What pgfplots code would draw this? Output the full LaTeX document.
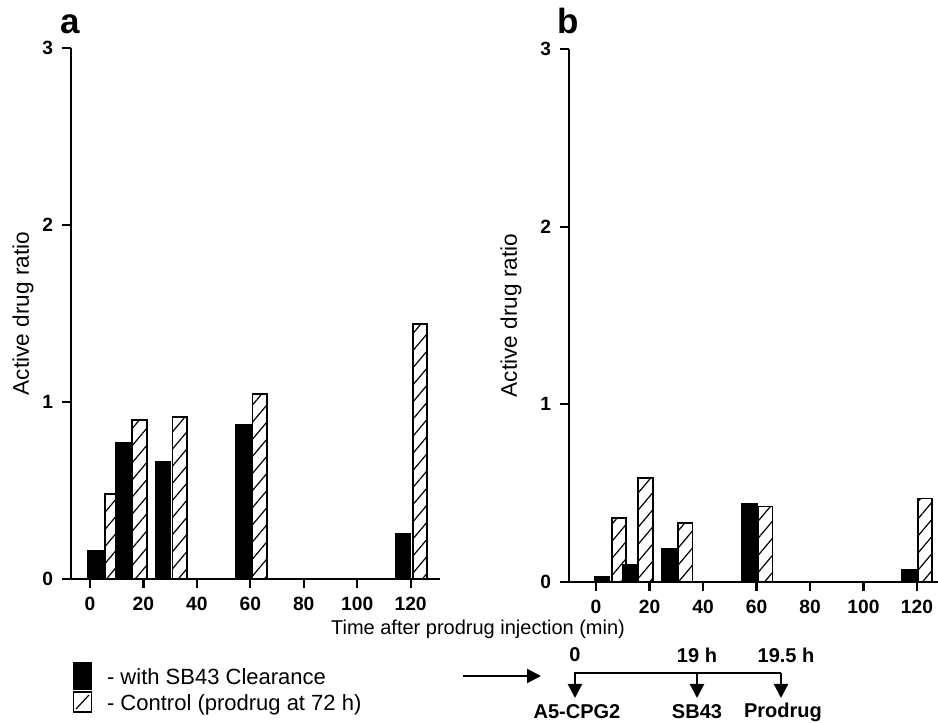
\documentclass[border=0pt]{standalone}
\usepackage{pgfplots}
\pgfplotsset{compat=1.18}
\usepackage{fontspec}
\setmainfont{Liberation Sans}
\usetikzlibrary{patterns.meta,arrows.meta}

\pgfplotsset{
  panel/.style={
    scale only axis,
    width=184.5pt,
    axis lines=left,
    axis line style={-, line width=1.2pt},
    ymin=0, ymax=3,
    ytick={0,1,2,3},
    xtick={0,20,40,60,80,100,120},
    tick align=outside,
    major tick length=4.5pt,
    every tick/.style={black, line width=1.1pt},
    /pgf/number format/assume math mode=true,
    tick label style={font=\bfseries\fontsize{9.6}{11}\selectfont},
    yticklabel style={xshift=-1pt},
    xticklabel style={yshift=-1pt},
    ylabel={Active drug ratio},
    ylabel style={font=\fontsize{11.3}{13}\selectfont, anchor=center},
    clip=false,
  },
  blackbar/.style={ybar, bar width=5.5, bar shift=0, fill=black, draw=black, line width=0.9pt},
  hatchbar/.style={ybar, bar width=5.5, bar shift=0, draw=black, line width=0.9pt, fill=white,
     postaction={pattern={Lines[angle=50,distance=5.5pt,line width=0.6pt]}, pattern color=black}},
}

\begin{document}
\begin{tikzpicture}[x=0.5pt,y=0.5pt]
\path[use as bounding box] (0,0) rectangle (938,723);

% Panel a
\begin{axis}[panel, at={(35.5pt,72pt)}, anchor=south west, height=265.5pt,
  xmin=-7.1, xmax=131,
  ylabel style={at={(axis description cs:-0.130,0.5)}}]
\addplot[hatchbar] coordinates {(8.4,0.48) (18.6,0.90) (33.6,0.915) (63.6,1.045) (123.5,1.44)};
\addplot[blackbar] coordinates {(2.1,0.16) (12.6,0.77) (27.4,0.66) (57.5,0.87) (117.2,0.254)};
\end{axis}

% Panel b
\begin{axis}[panel, at={(284.5pt,70.5pt)}, anchor=south west, height=266.5pt,
  xmin=-10.1, xmax=127.85,
  ylabel style={at={(axis description cs:-0.157,0.5)}}]
\addplot[hatchbar] coordinates {(8.6,0.36) (18.5,0.585) (33.3,0.33) (63.2,0.425) (123.0,0.47)};
\addplot[blackbar] coordinates {(2.2,0.03) (12.7,0.095) (27.5,0.185) (57.4,0.44) (117.2,0.068)};
\end{axis}

% panel letters
\node[anchor=base, font=\bfseries\fontsize{17.5}{20}\selectfont] at (70,689) {a};
\node[anchor=base, font=\bfseries\fontsize{17.5}{20}\selectfont] at (568,689) {b};

% shared x label
\node[font=\fontsize{10}{12}\selectfont] at (478,94) {Time after prodrug injection (min)};

% legend
\fill[black] (73,33) rectangle (92,61);
\draw[line width=0.9pt] (73.5,11) rectangle (91.5,31);
\draw[line width=0.6pt] (76,14) -- (89,28);
\node[anchor=west, font=\fontsize{11}{13}\selectfont] at (100,46) {- with SB43 Clearance};
\node[anchor=west, font=\fontsize{11}{13}\selectfont] at (100,18) {- Control (prodrug at 72 h)};

% schedule
\draw[line width=1.1pt, -{Triangle[length=7pt,width=7pt]}] (463,47) -- (541,47);
\draw[line width=1.1pt] (575,40) -- (575,50) -- (781,50);
\foreach \xx in {575,697,781} {
  \draw[line width=1.1pt, -{Triangle[length=7pt,width=7pt]}] (\xx,50) -- (\xx,25);
}
\node[font=\bfseries\fontsize{10}{12}\selectfont] at (575,68) {0};
\node[font=\bfseries\fontsize{10}{12}\selectfont] at (697,68) {19 h};
\node[font=\bfseries\fontsize{10}{12}\selectfont] at (786,68) {19.5 h};
\node[font=\bfseries\fontsize{10}{12}\selectfont] at (577,11) {A5-CPG2};
\node[font=\bfseries\fontsize{10}{12}\selectfont] at (697,11) {SB43};
\node[font=\bfseries\fontsize{10}{12}\selectfont] at (783,11) {Prodrug};
\end{tikzpicture}
\end{document}
